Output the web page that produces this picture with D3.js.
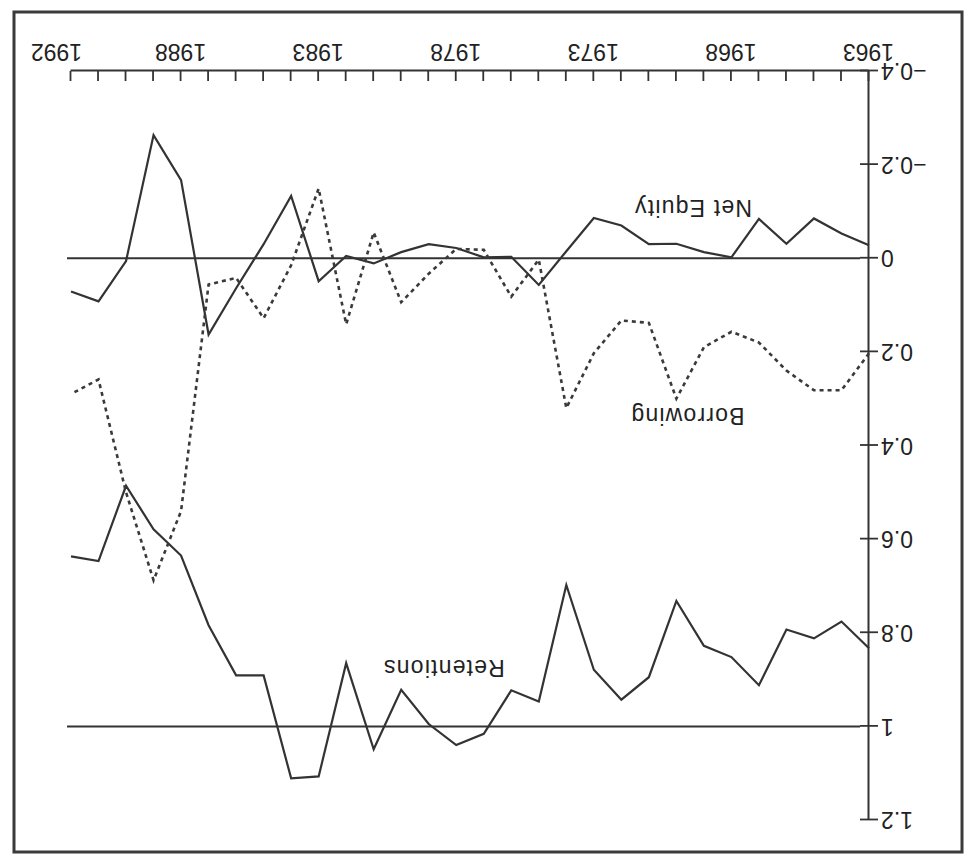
<!DOCTYPE html>
<html>
<head>
<meta charset="utf-8">
<script src="https://cdn.jsdelivr.net/npm/d3@7"></script>
<style>
  html, body { margin: 0; padding: 0; background: #fff; }
  svg { display: block; }
  text { font-family: "Liberation Sans", Arial, Helvetica, sans-serif; fill: #222; }
</style>
</head>
<body>
<svg id="chart" width="968" height="855"></svg>
<script>
// Sources of finance as a share of the total, 1963-1992
const years = d3.range(1963, 1993);

const netEquity = [
  -0.028, -0.053, -0.085, -0.031, -0.084, -0.002, -0.013, -0.031, -0.030, -0.070,
  -0.086, -0.015, 0.057, -0.003, -0.002, -0.022, -0.030, -0.013, 0.011, -0.005,
  0.049, -0.133, -0.030, 0.064, 0.163, -0.167, -0.263, 0.006, 0.092, 0.071
];

const borrowing = [
  0.203, 0.282, 0.282, 0.240, 0.180, 0.157, 0.190, 0.300, 0.138, 0.133,
  0.203, 0.320, 0.003, 0.082, -0.018, -0.020, 0.033, 0.094, -0.055, 0.141,
  -0.149, 0.015, 0.128, 0.042, 0.056, 0.540, 0.688, 0.500, 0.259, 0.290
];

const retentions = [
  0.833, 0.776, 0.812, 0.793, 0.912, 0.852, 0.828, 0.732, 0.895, 0.943,
  0.879, 0.698, 0.947, 0.923, 1.016, 1.040, 0.995, 0.922, 1.049, 0.865,
  1.107, 1.111, 0.891, 0.891, 0.784, 0.635, 0.579, 0.486, 0.647, 0.637
];

const yTicks = [-0.4, -0.2, 0, 0.2, 0.4, 0.6, 0.8, 1, 1.2];
const xLabelYears = [1963, 1968, 1973, 1978, 1983, 1988, 1992];
const referenceLines = [0, 1];

const seriesLabels = [
  { text: "Net Equity", year: 1969.4, value: -0.124 },
  { text: "Borrowing",  year: 1969.6, value: 0.32 },
  { text: "Retentions", year: 1978.45, value: 0.858 }
];

const W = 968, H = 855;
const ink = "#333";

const svg = d3.select("#chart");
svg.append("rect").attr("width", W).attr("height", H).attr("fill", "#fff");

// The page is printed turned half a revolution
const g = svg.append("g").attr("transform", `rotate(180 ${W / 2} ${H / 2})`);

// outer frame
g.append("rect")
  .attr("x", 6).attr("y", 3).attr("width", 948).attr("height", 840)
  .attr("fill", "none").attr("stroke", "#3a3a3a").attr("stroke-width", 3);

const x = d3.scaleLinear().domain([1963, 1992]).range([99, 897]);
const y = d3.scaleLinear().domain([-0.4, 1.2]).range([784, 35]);

// x axis: a tick each year, labels every fifth year and the last one
const xAxis = d3.axisBottom(x)
  .tickValues(years)
  .tickSizeInner(-10)
  .tickSizeOuter(0)
  .tickPadding(11)
  .tickFormat(d => xLabelYears.includes(d) ? String(d) : "");

const gx = g.append("g")
  .attr("transform", `translate(0,${y(-0.4)})`)
  .call(xAxis);
gx.select(".domain").attr("stroke", ink).attr("stroke-width", 2);
gx.selectAll(".tick line").attr("stroke", ink).attr("stroke-width", 1.8);
gx.selectAll(".tick text")
  .attr("font-size", 23)
  .attr("fill", "#222")
  .attr("dx", d => d === 1992 ? 14 : 0);

// y axis with ticks crossing the line
const yAxis = d3.axisLeft(y)
  .tickValues(yTicks)
  .tickSizeInner(9)
  .tickSizeOuter(0)
  .tickPadding(3)
  .tickFormat(d3.format(""));

const gy = g.append("g")
  .attr("transform", `translate(${x(1963)},0)`)
  .call(yAxis);
gy.select(".domain").attr("stroke", ink).attr("stroke-width", 2);
gy.selectAll(".tick line")
  .attr("x1", 9).attr("x2", -9)
  .attr("stroke", ink).attr("stroke-width", 1.8);
gy.selectAll(".tick text")
  .attr("font-size", 23)
  .attr("fill", "#222");

// horizontal reference lines at 0 and 1
g.selectAll("line.ref")
  .data(referenceLines)
  .join("line")
  .attr("class", "ref")
  .attr("x1", x(1963) + 9)
  .attr("x2", x(1992) + 4)
  .attr("y1", d => y(d))
  .attr("y2", d => y(d))
  .attr("stroke", ink)
  .attr("stroke-width", 2);

const line = d3.line()
  .x((d, i) => x(years[i]))
  .y(d => y(d));

g.append("path")
  .datum(retentions)
  .attr("d", line)
  .attr("fill", "none")
  .attr("stroke", ink)
  .attr("stroke-width", 2.2)
  .attr("stroke-linejoin", "miter");

g.append("path")
  .datum(netEquity)
  .attr("d", line)
  .attr("fill", "none")
  .attr("stroke", ink)
  .attr("stroke-width", 2.2)
  .attr("stroke-linejoin", "miter");

g.append("path")
  .datum(borrowing)
  .attr("d", line)
  .attr("fill", "none")
  .attr("stroke", "#3a3a3a")
  .attr("stroke-width", 2.6)
  .attr("stroke-dasharray", "4 4");

g.selectAll("text.series")
  .data(seriesLabels)
  .join("text")
  .attr("class", "series")
  .attr("x", d => x(d.year))
  .attr("y", d => y(d.value))
  .attr("text-anchor", "middle")
  .attr("font-size", 23)
  .attr("letter-spacing", 1.2)
  .text(d => d.text);
</script>
</body>
</html>
